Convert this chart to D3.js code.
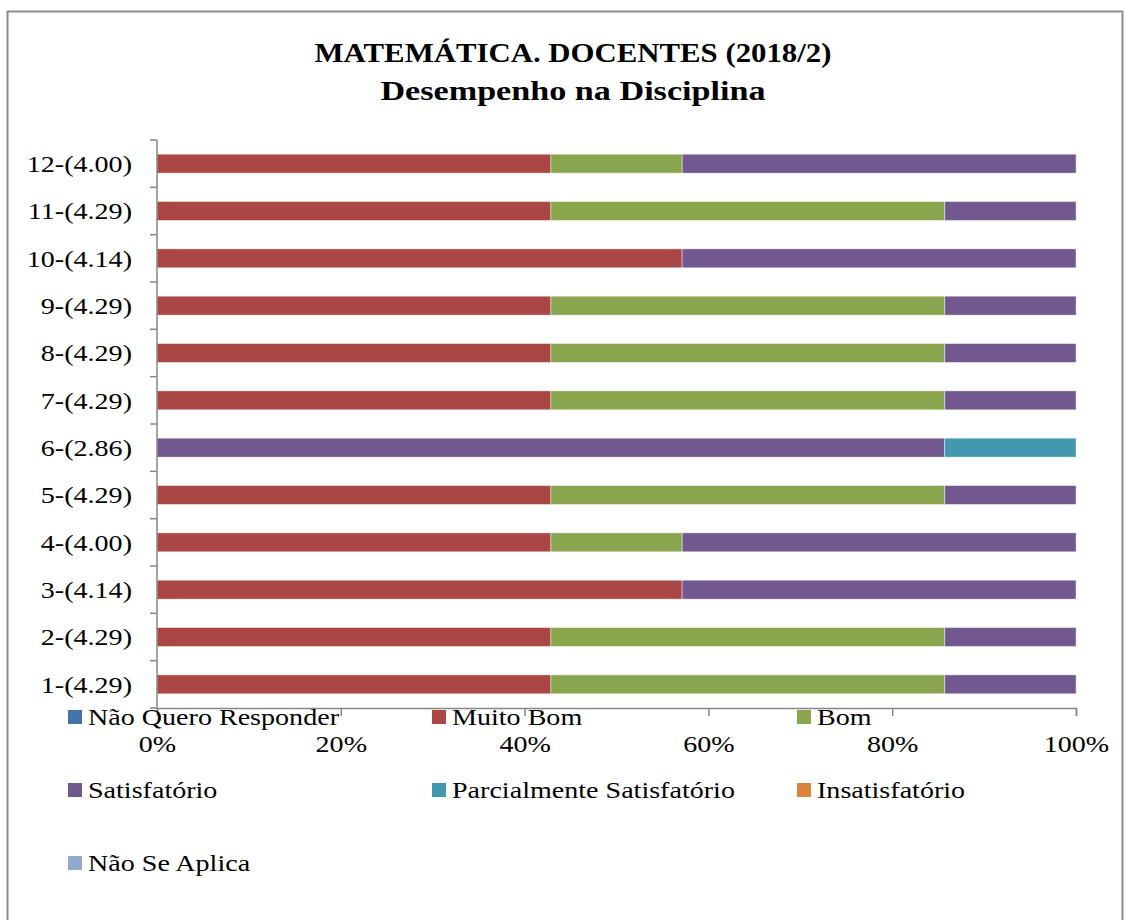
<!DOCTYPE html>
<html>
<head>
<meta charset="utf-8">
<script src="https://cdn.jsdelivr.net/npm/d3@7/dist/d3.min.js"></script>
<style>
  html, body { margin: 0; padding: 0; background: #fff; }
  svg { display: block; }
  svg text { font-family: "Liberation Serif", "DejaVu Serif", serif; fill: #000; }
</style>
</head>
<body>
<svg id="chart" width="1126" height="920"></svg>
<script>
// Items, top to bottom as drawn (label includes the mean score)
const categories = ["12-(4.00)", "11-(4.29)", "10-(4.14)", "9-(4.29)", "8-(4.29)", "7-(4.29)",
                    "6-(2.86)", "5-(4.29)", "4-(4.00)", "3-(4.14)", "2-(4.29)", "1-(4.29)"];

// Response categories in stacking order
const seriesNames = ["Não Quero Responder", "Muito Bom", "Bom", "Satisfatório",
                     "Parcialmente Satisfatório", "Insatisfatório", "Não Se Aplica"];
const seriesColors = ["#4572A7", "#AA4643", "#89A54E", "#71588F", "#4198AF", "#DB843D", "#93A9CF"];

// Percent of answers per item, one array per response category (same order as categories)
const naoQuero      = [0, 0, 0, 0, 0, 0, 0, 0, 0, 0, 0, 0];
const muitoBom      = [42.86, 42.86, 57.14, 42.86, 42.86, 42.86, 0, 42.86, 42.86, 57.14, 42.86, 42.86];
const bom           = [14.29, 42.86, 0, 42.86, 42.86, 42.86, 0, 42.86, 14.29, 0, 42.86, 42.86];
const satisfatorio  = [42.86, 14.29, 42.86, 14.29, 14.29, 14.29, 85.71, 14.29, 42.86, 42.86, 14.29, 14.29];
const parcialmente  = [0, 0, 0, 0, 0, 0, 14.29, 0, 0, 0, 0, 0];
const insatisfatorio= [0, 0, 0, 0, 0, 0, 0, 0, 0, 0, 0, 0];
const naoSeAplica   = [0, 0, 0, 0, 0, 0, 0, 0, 0, 0, 0, 0];

const xTicks = [0, 20, 40, 60, 80, 100];
const titleLines = ["MATEMÁTICA. DOCENTES (2018/2)", "Desempenho na Disciplina"];

const seriesValues = [naoQuero, muitoBom, bom, satisfatorio, parcialmente, insatisfatorio, naoSeAplica];
const rows = categories.map((c, i) => {
  const r = { cat: c };
  seriesNames.forEach((s, j) => { r[s] = seriesValues[j][i]; });
  return r;
});

const svg = d3.select("#chart");
const axisColor = "#868686";
const fontFamily = '"Liberation Serif", "DejaVu Serif", serif';
const wide = 1.17;                 // horizontal stretch of body text
const titleStretch = [1.10, 1.22]; // horizontal stretch of each title line
const titleBaselines = [62, 100];

// outer frame
svg.append("rect")
  .attr("x", 7.5).attr("y", 11.5).attr("width", 1115).attr("height", 930)
  .attr("fill", "none").attr("stroke", "#8c8c8c").attr("stroke-width", 2);

// title
svg.selectAll("text.title").data(titleLines).enter().append("text")
  .attr("class", "title")
  .attr("transform", (d, i) => `translate(573,${titleBaselines[i]}) scale(${titleStretch[i]},1)`)
  .attr("text-anchor", "middle")
  .style("font-family", fontFamily)
  .attr("font-size", 28).attr("font-weight", "bold")
  .text(d => d);

const plot = { left: 157, right: 1076, top: 140, bottom: 708 };

const x = d3.scaleLinear().domain([0, 100]).range([plot.left, plot.right]);
const y = d3.scaleBand().domain(categories).range([plot.top, plot.bottom]).paddingInner(0.6).paddingOuter(0.3);
const yOuter = d3.scaleBand().domain(categories).range([plot.top, plot.bottom]);

const stacked = d3.stack().keys(seriesNames)(rows);

// bars
svg.append("g").selectAll("g").data(stacked).enter().append("g")
  .attr("fill", (d, i) => seriesColors[i])
  .selectAll("rect").data(d => d.filter(p => p[1] - p[0] > 0)).enter().append("rect")
  .attr("x", d => x(d[0]))
  .attr("width", d => x(d[1]) - x(d[0]))
  .attr("y", d => y(d.data.cat))
  .attr("height", y.bandwidth())
  .attr("stroke", "rgba(255,255,255,0.55)")
  .attr("stroke-width", 0.8);

// y axis: line, tick marks at band boundaries, labels
const yAxisG = svg.append("g");
yAxisG.append("line")
  .attr("x1", plot.left).attr("x2", plot.left)
  .attr("y1", plot.top).attr("y2", plot.bottom)
  .attr("stroke", axisColor).attr("stroke-width", 1.5);
const bounds = categories.map(c => yOuter(c)).concat([plot.bottom]);
yAxisG.selectAll("line.tick").data(bounds).enter().append("line")
  .attr("x1", plot.left - 7).attr("x2", plot.left)
  .attr("y1", d => d).attr("y2", d => d)
  .attr("stroke", axisColor).attr("stroke-width", 1.5);
yAxisG.selectAll("text").data(categories).enter().append("text")
  .attr("transform", d => `translate(132,${yOuter(d) + yOuter.bandwidth() / 2}) scale(${wide},1)`)
  .attr("dy", "0.35em")
  .attr("text-anchor", "end")
  .style("font-family", fontFamily)
  .attr("font-size", 24)
  .text(d => d);

// x axis
const xAxis = d3.axisBottom(x).tickValues(xTicks).tickSize(8).tickFormat(d => d + "%");
const xAxisG = svg.append("g")
  .attr("transform", `translate(0,${plot.bottom})`)
  .call(xAxis);
xAxisG.select(".domain").attr("stroke", axisColor).attr("stroke-width", 1.5);
xAxisG.selectAll(".tick line").attr("stroke", axisColor).attr("stroke-width", 1.5);
xAxisG.selectAll(".tick text")
  .style("font-family", fontFamily)
  .attr("font-size", 24)
  .attr("fill", "#000")
  .attr("y", null)
  .attr("dy", "0.35em")
  .attr("transform", `translate(0,36) scale(${wide},1)`);

// legend
const legendCols = [68, 432, 797];
const legendRows = [717, 790, 863];
const leg = svg.append("g").selectAll("g").data(seriesNames).enter().append("g")
  .attr("transform", (d, i) => `translate(${legendCols[i % 3]},${legendRows[Math.floor(i / 3)]})`);
leg.append("rect")
  .attr("x", 0).attr("y", -7).attr("width", 14).attr("height", 14)
  .attr("fill", (d, i) => seriesColors[i]);
leg.append("text")
  .attr("transform", `translate(20,0) scale(${wide},1)`)
  .attr("dy", "0.35em")
  .style("font-family", fontFamily)
  .attr("font-size", 24)
  .text(d => d);
</script>
</body>
</html>
